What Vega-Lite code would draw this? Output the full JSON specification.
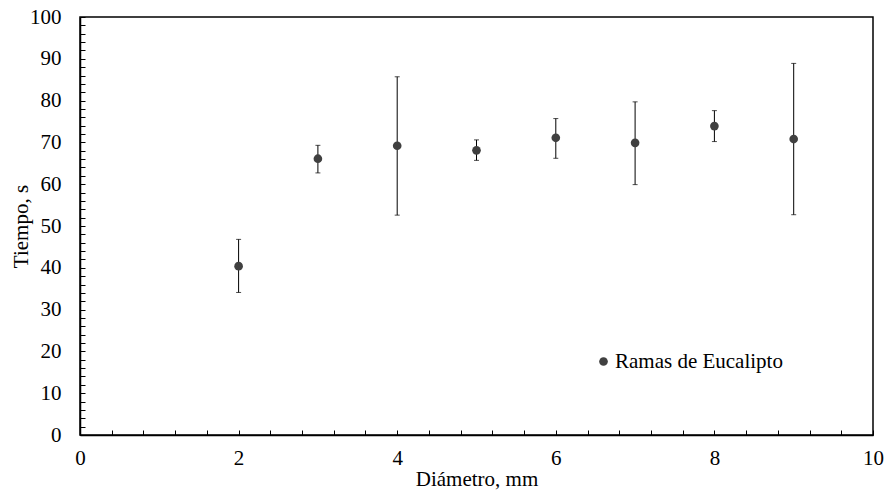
{
  "$schema": "https://vega.github.io/schema/vega-lite/v6.json",
  "width": 793,
  "height": 418,
  "autosize": "none",
  "padding": {"left": 80, "top": 17, "right": 12, "bottom": 59},
  "background": "white",
  "config": {
    "view": {"stroke": "black", "strokeWidth": 1.5},
    "font": "Liberation Serif, Times New Roman, serif",
    "axis": {
      "grid": false,
      "domainColor": "black",
      "domainWidth": 1.5,
      "tickColor": "black",
      "tickWidth": 1,
      "tickCount": 1000,
      "labelOverlap": false,
      "labelFont": "Liberation Serif, Times New Roman, serif",
      "labelFontSize": 21,
      "labelColor": "black",
      "titleFont": "Liberation Serif, Times New Roman, serif",
      "titleFontSize": 21,
      "titleFontWeight": "normal",
      "titleColor": "black"
    },
    "legend": {
      "labelFont": "Liberation Serif, Times New Roman, serif"
    }
  },
  "data": {
    "values": [
      {"d": 2, "t": 40.4, "lo": 34.1, "hi": 46.8, "serie": "Ramas de Eucalipto"},
      {"d": 3, "t": 66.1, "lo": 62.7, "hi": 69.3, "serie": "Ramas de Eucalipto"},
      {"d": 4, "t": 69.2, "lo": 52.6, "hi": 85.7, "serie": "Ramas de Eucalipto"},
      {"d": 5, "t": 68.1, "lo": 65.7, "hi": 70.6, "serie": "Ramas de Eucalipto"},
      {"d": 6, "t": 71.1, "lo": 66.2, "hi": 75.7, "serie": "Ramas de Eucalipto"},
      {"d": 7, "t": 69.9, "lo": 59.9, "hi": 79.7, "serie": "Ramas de Eucalipto"},
      {"d": 8, "t": 73.9, "lo": 70.2, "hi": 77.6, "serie": "Ramas de Eucalipto"},
      {"d": 9, "t": 70.8, "lo": 52.7, "hi": 88.9, "serie": "Ramas de Eucalipto"}
    ]
  },
  "layer": [
    {
      "mark": {"type": "rule", "color": "black", "strokeWidth": 1},
      "encoding": {
        "x": {"field": "d", "type": "quantitative"},
        "y": {"field": "lo", "type": "quantitative"},
        "y2": {"field": "hi"}
      }
    },
    {
      "mark": {"type": "tick", "orient": "horizontal", "color": "black", "size": 5, "thickness": 1},
      "encoding": {
        "x": {"field": "d", "type": "quantitative"},
        "y": {"field": "lo", "type": "quantitative"}
      }
    },
    {
      "mark": {"type": "tick", "orient": "horizontal", "color": "black", "size": 5, "thickness": 1},
      "encoding": {
        "x": {"field": "d", "type": "quantitative"},
        "y": {"field": "hi", "type": "quantitative"}
      }
    },
    {
      "mark": {"type": "point", "filled": true, "opacity": 1, "size": 75},
      "encoding": {
        "x": {
          "field": "d", "type": "quantitative",
          "scale": {"domain": [0, 10], "nice": false},
          "axis": {
            "title": "Diámetro, mm",
            "titlePadding": 0,
            "values": [0,0.4,0.8,1.2,1.6,2,2.4,2.8,3.2,3.6,4,4.4,4.8,5.2,5.6,6,6.4,6.8,7.2,7.6,8,8.4,8.8,9.2,9.6,10],
            "tickCount": 1000,
            "format": ".0f",
            "labelExpr": "abs(datum.value - round(datum.value/2)*2) < 0.01 ? datum.label : ''",
            "tickSize": -5,
            "labelPadding": 17,
            "labelFlush": false
          }
        },
        "y": {
          "field": "t", "type": "quantitative",
          "scale": {"domain": [0, 100], "nice": false},
          "axis": {
            "title": "Tiempo, s",
            "titlePadding": -2,
            "values": [0,2,4,6,8,10,12,14,16,18,20,22,24,26,28,30,32,34,36,38,40,42,44,46,48,50,52,54,56,58,60,62,64,66,68,70,72,74,76,78,80,82,84,86,88,90,92,94,96,98,100],
            "tickCount": 1000,
            "format": ".0f",
            "labelExpr": "datum.value % 10 == 0 ? datum.label : ''",
            "tickSize": -5,
            "labelPadding": 24
          }
        },
        "color": {
          "field": "serie", "type": "nominal",
          "scale": {"range": ["#404040"]},
          "legend": {
            "title": null,
            "orient": "none",
            "legendX": 513,
            "legendY": 334,
            "labelFont": "Liberation Serif, Times New Roman, serif",
            "labelFontSize": 21,
            "labelColor": "black",
            "labelOffset": 1,
            "labelLimit": 400,
            "symbolType": "circle",
            "symbolSize": 75,
            "symbolStrokeWidth": 0
          }
        }
      }
    }
  ]
}
